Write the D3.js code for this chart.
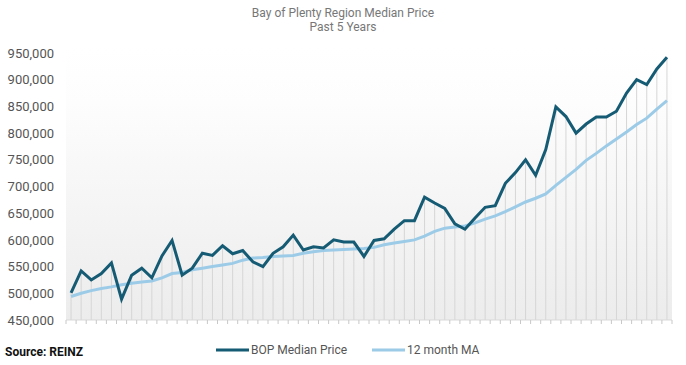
<html>
<head>
  <title>Bay of Plenty Region Median Price</title>
  <script src="https://d3js.org/d3.v7.min.js"></script>
  <style>
    body { margin: 0; background: #fff; }
    text { font-family: Roboto, "Open Sans", sans-serif; }
    .y.axis text { fill: #555; font-size: 13px; }
    .y.axis .domain { stroke: none; }
  </style>
</head>
<body>
  <svg id="chart" width="686" height="365"></svg>

  <script>
    // values (monthly, 5 years)
    const medianPrice = [
      501000, 542000, 525000, 537000, 557000, 489000, 534000, 547000, 529000, 570000,
      599000, 534000, 547000, 575000, 571000, 589000, 574000, 580000, 559000, 550000,
      575000, 587000, 609000, 581000, 587000, 585000, 600000, 596000, 596000, 569000,
      599000, 602000, 620000, 636000, 636000, 680000, 669000, 659000, 630000, 620000,
      641000, 661000, 664000, 706000, 726000, 750000, 721000, 769000, 849000, 831000,
      800000, 817000, 830000, 830000, 841000, 875000, 900000, 891000, 920000, 942000
    ];
    const movingAvg = [
      494000, 500000, 505000, 509000, 512000, 516000, 519000, 521000, 523000, 529000,
      537000, 539000, 544000, 547000, 550000, 553000, 556000, 562000, 566000, 567000,
      569000, 570000, 571000, 575000, 578000, 580000, 581000, 582000, 583000, 584000,
      586000, 591000, 594000, 597000, 600000, 607000, 616000, 622000, 624000, 626000,
      632000, 639000, 645000, 653000, 662000, 671000, 678000, 686000, 702000, 717000,
      732000, 749000, 762000, 776000, 789000, 802000, 816000, 828000, 845000, 861000
    ];
    const yTicks = [450000, 500000, 550000, 600000, 650000, 700000, 750000, 800000, 850000, 900000, 950000];
    const titleLines = ["Bay of Plenty Region Median Price", "Past 5 Years"];
    const seriesNames = ["BOP Median Price", "12 month MA"];
    const seriesColors = ["#155b74", "#9ccbe8"];

    const svg = d3.select("svg#chart");
    const margin = { left: 66, right: 672, top: 53, bottom: 320 };

    const x = d3.scaleBand().domain(d3.range(medianPrice.length)).range([margin.left, margin.right]);
    const y = d3.scaleLinear().domain([450000, 950000]).range([margin.bottom, margin.top]);
    const cx = i => x(i) + x.bandwidth() / 2;

    // plot background gradient
    const grad = svg.append("defs").append("linearGradient")
      .attr("id", "bg").attr("x1", 0).attr("y1", 0).attr("x2", 0).attr("y2", 1);
    grad.append("stop").attr("offset", "0%").attr("stop-color", "#ffffff");
    grad.append("stop").attr("offset", "20%").attr("stop-color", "#fdfdfd");
    grad.append("stop").attr("offset", "100%").attr("stop-color", "#ececec");

    svg.append("rect")
      .attr("x", margin.left).attr("y", margin.top - 5)
      .attr("width", margin.right - margin.left).attr("height", margin.bottom - margin.top + 5)
      .attr("fill", "url(#bg)");

    // drop lines from the median line to the baseline
    svg.append("g").selectAll("line").data(medianPrice)
      .join("line")
      .attr("x1", (d, i) => cx(i)).attr("x2", (d, i) => cx(i))
      .attr("y1", margin.bottom).attr("y2", d => y(d))
      .attr("stroke", "#d6d6d6").attr("stroke-width", 1);

    // baseline and ticks at band edges
    svg.append("line")
      .attr("x1", margin.left).attr("x2", margin.right)
      .attr("y1", margin.bottom).attr("y2", margin.bottom)
      .attr("stroke", "#d9d9d9");
    svg.append("g").selectAll("line").data(d3.range(medianPrice.length + 1))
      .join("line")
      .attr("x1", i => margin.left + i * x.step()).attr("x2", i => margin.left + i * x.step())
      .attr("y1", margin.bottom).attr("y2", margin.bottom + 4)
      .attr("stroke", "#c8c8c8");

    // y axis labels
    svg.append("g")
      .attr("class", "y axis")
      .attr("transform", `translate(${margin.left},0)`)
      .call(d3.axisLeft(y).tickValues(yTicks).tickSize(0).tickPadding(12).tickFormat(d3.format(",")));

    // lines
    const line = d3.line().x((d, i) => cx(i)).y(d => y(d));
    svg.append("path").datum(movingAvg)
      .attr("d", line).attr("fill", "none")
      .attr("stroke", seriesColors[1]).attr("stroke-width", 3);
    svg.append("path").datum(medianPrice)
      .attr("d", line).attr("fill", "none")
      .attr("stroke", seriesColors[0]).attr("stroke-width", 3);

    // title
    svg.append("g").selectAll("text").data(titleLines)
      .join("text")
      .attr("x", 343).attr("y", (d, i) => 17 + i * 14)
      .attr("text-anchor", "middle")
      .attr("fill", "#777").attr("font-size", "12px")
      .text(d => d);

    // source note
    svg.append("text")
      .attr("x", 5).attr("y", 356)
      .attr("font-size", "12px").attr("font-weight", "bold").attr("fill", "#111")
      .text("Source: REINZ");

    // legend
    const legendX = [216, 372];
    const legend = svg.append("g").selectAll("g").data(seriesNames)
      .join("g")
      .attr("transform", (d, i) => `translate(${legendX[i]},350)`);
    legend.append("line")
      .attr("x1", 0).attr("x2", 33).attr("y1", 0).attr("y2", 0)
      .attr("stroke", (d, i) => seriesColors[i]).attr("stroke-width", 3);
    legend.append("text")
      .attr("x", 35).attr("y", 4)
      .attr("font-size", "12px").attr("fill", "#555")
      .text(d => d);
  </script>
</body>
</html>
